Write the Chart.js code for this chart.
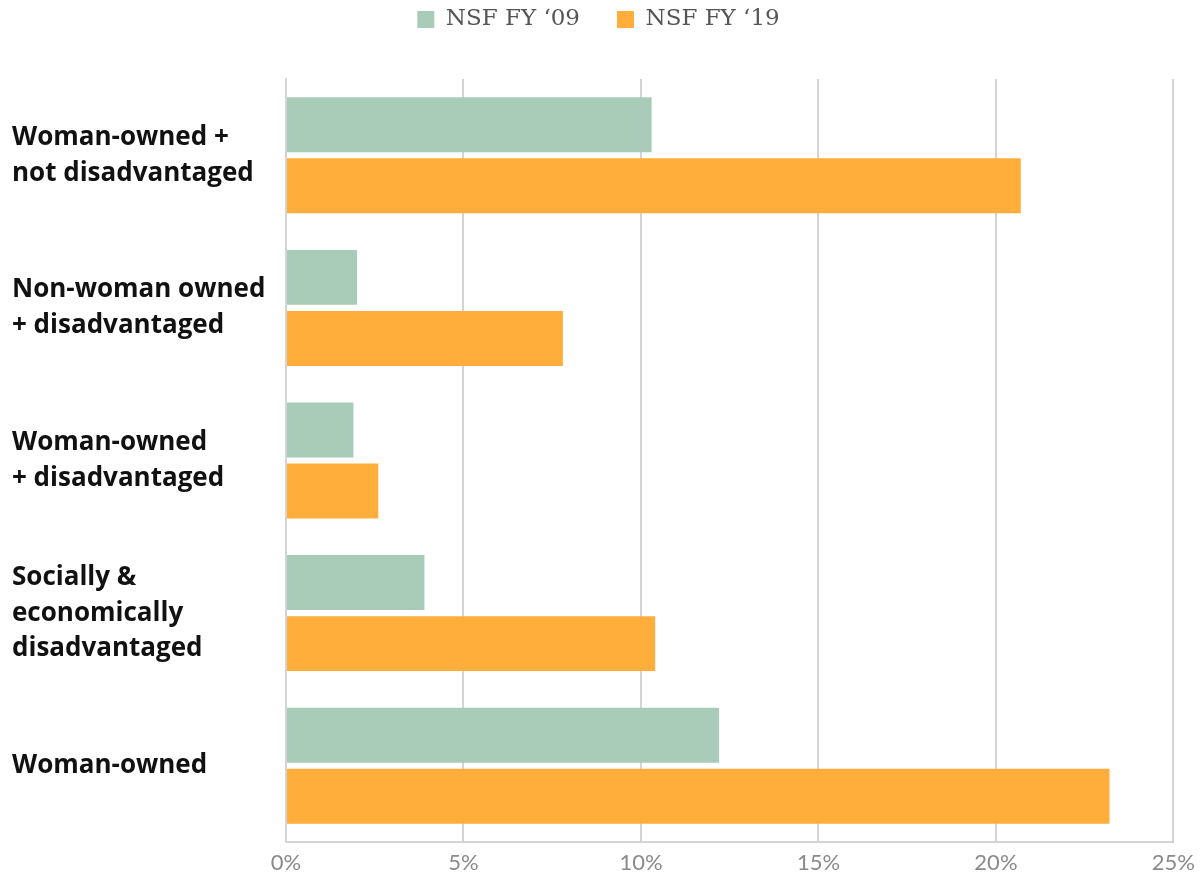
<!DOCTYPE html>
<html>
<head>
<meta charset="utf-8">
<script src="https://cdn.jsdelivr.net/npm/chart.js@4/dist/chart.umd.min.js"></script>
<style>
  html, body { margin: 0; padding: 0; background: #ffffff; }
  #wrap { width: 1203px; height: 877px; position: relative; }
</style>
</head>
<body>
<div id="wrap"><canvas id="c" width="1203" height="877"></canvas></div>
<script>
const categories = [
  ["Woman-owned +", "not disadvantaged"],
  ["Non-woman owned", "+ disadvantaged"],
  ["Woman-owned", "+ disadvantaged"],
  ["Socially &", "economically", "disadvantaged"],
  ["Woman-owned"]
];
const seriesNames = ["NSF FY \u201809", "NSF FY \u201819"];
const fy09 = [10.3, 2.0, 1.9, 3.9, 12.2];
const fy19 = [20.7, 7.8, 2.6, 10.4, 23.2];
const tickValues = [0, 5, 10, 15, 20, 25];

const LEGEND_PAD = 37;
const legendPlacement = {
  id: 'legendPlacement',
  beforeLayout(chart) {
    const lg = chart.legend;
    if (lg && !lg._wrapped) {
      const orig = lg.fit;
      lg.fit = function () { orig.call(this); this.height = 79; };
      lg._wrapped = true;
    }
  },
  afterLayout(chart) {
    const lg = chart.legend;
    if (lg) {
      const shift = LEGEND_PAD + 10 - 18;
      lg.top -= shift;
      lg.bottom -= shift;
      lg.left += 4;
      lg.right += 4;
    }
  }
};

new Chart(document.getElementById('c'), {
  type: 'bar',
  data: {
    labels: categories,
    datasets: [
      { label: seriesNames[0], data: fy09, backgroundColor: '#a8ccb8', borderWidth: 0 },
      { label: seriesNames[1], data: fy19, backgroundColor: '#ffad3b', borderWidth: 0 }
    ]
  },
  plugins: [legendPlacement],
  options: {
    indexAxis: 'y',
    responsive: false,
    animation: false,
    layout: { padding: { left: 12, right: 26, top: 0, bottom: 0 } },
    datasets: { bar: { categoryPercentage: 0.8, barPercentage: 0.9 } },
    plugins: {
      tooltip: { enabled: false },
      legend: {
        position: 'top',
        labels: {
          boxWidth: 17, boxHeight: 17,
          color: '#555555',
          font: { family: "'DejaVu Serif', 'Liberation Serif', serif", size: 23 },
          padding: LEGEND_PAD
        }
      }
    },
    scales: {
      x: {
        min: 0, max: 25,
        afterBuildTicks: (s) => { s.ticks = tickValues.map(v => ({ value: v })); },
        afterFit: (s) => { s.height = 35; },
        ticks: {
          callback: (v) => v + '%',
          color: '#8a8a8a',
          font: { family: "'Liberation Sans Narrow', 'Lato', sans-serif", size: 22 },
          padding: 8
        },
        grid: { color: '#d4d4d4', lineWidth: 2, drawTicks: false },
        border: { color: '#d4d4d4', width: 2 }
      },
      y: {
        afterFit: (s) => { s.width = 274; s.paddingTop = 0; s.paddingBottom = 0; },
        ticks: {
          crossAlign: 'far',
          color: '#111111',
          font: { family: "'Open Sans', sans-serif", size: 26, weight: 'bold', lineHeight: 1.38 }
        },
        grid: { display: false, drawTicks: false },
        border: { color: '#d4d4d4', width: 2 }
      }
    }
  }
});
</script>
</body>
</html>
